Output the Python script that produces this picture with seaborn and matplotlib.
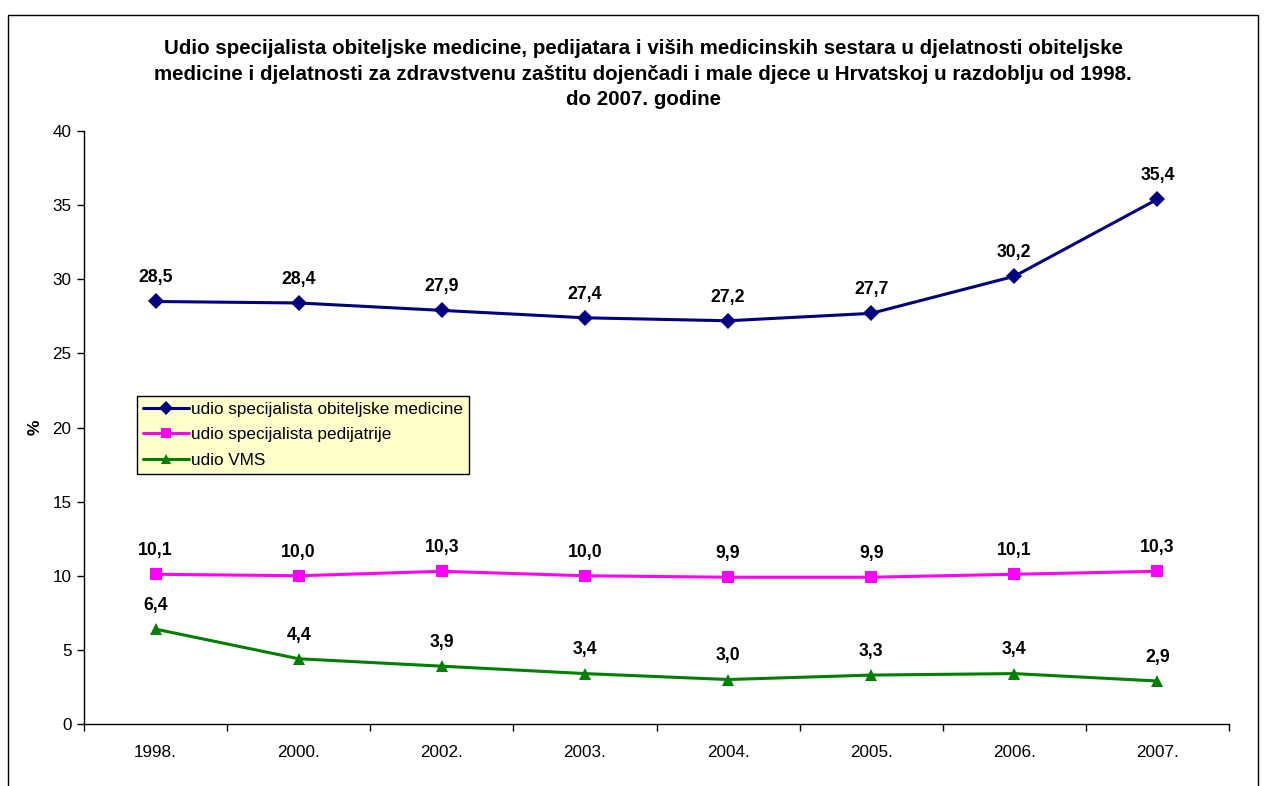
import matplotlib
matplotlib.use("Agg")
import matplotlib.pyplot as plt
import seaborn as sns
import pandas as pd
from matplotlib.patches import Rectangle
from matplotlib.ticker import FixedLocator

years = ["1998.", "2000.", "2002.", "2003.", "2004.", "2005.", "2006.", "2007."]
obiteljska = [28.5, 28.4, 27.9, 27.4, 27.2, 27.7, 30.2, 35.4]
pedijatrija = [10.1, 10.0, 10.3, 10.0, 9.9, 9.9, 10.1, 10.3]
vms = [6.4, 4.4, 3.9, 3.4, 3.0, 3.3, 3.4, 2.9]
series_names = ["udio specijalista obiteljske medicine",
                "udio specijalista pedijatrije",
                "udio VMS"]
title = ("Udio specijalista obiteljske medicine, pedijatara i viših medicinskih sestara u djelatnosti obiteljske\n"
         "medicine i djelatnosti za zdravstvenu zaštitu dojenčadi i male djece u Hrvatskoj u razdoblju od 1998.\n"
         "do 2007. godine")

sns.set_style("white")
plt.rcParams['font.family'] = ['Liberation Sans', 'DejaVu Sans']
plt.rcParams['text.color'] = 'black'
plt.rcParams['axes.labelcolor'] = 'black'
plt.rcParams['xtick.color'] = 'black'
plt.rcParams['ytick.color'] = 'black'

rows = []
for name, vals in zip(series_names, [obiteljska, pedijatrija, vms]):
    for y, v in zip(years, vals):
        rows.append({"godina": y, "vrijednost": v, "serija": name})
df = pd.DataFrame(rows)

colors = {series_names[0]: "#000080", series_names[1]: "#FF00FF", series_names[2]: "#008000"}
markers = {series_names[0]: "D", series_names[1]: "s", series_names[2]: "^"}

fig = plt.figure(figsize=(12.68, 7.86), dpi=100)
ax = fig.add_axes([84/1268, 1-724/786, (1229-84)/1268, (724-131)/786])

sns.lineplot(data=df, x="godina", y="vrijednost", hue="serija", style="serija",
             palette=colors, markers=markers, dashes=False, linewidth=2.2,
             markersize=8.5, markeredgewidth=0, ax=ax, sort=False)

# data labels
for vals in [obiteljska, pedijatrija, vms]:
    for i, v in enumerate(vals):
        ax.annotate(f"{v:.1f}".replace(".", ","), (i, v), xytext=(0, 17),
                    textcoords="offset points", ha="center", va="center",
                    fontsize=12.7, fontweight="bold", color="black")

ax.set_xlim(-0.5, len(years) - 0.5)
ax.set_ylim(0, 40)
ax.set_yticks(range(0, 41, 5))
ax.set_xticks(range(len(years)))
ax.set_xticklabels(years)
ax.xaxis.set_minor_locator(FixedLocator([i - 0.5 for i in range(len(years) + 1)]))
ax.tick_params(axis="x", which="major", length=0, pad=15, labelsize=12.3)
ax.tick_params(axis="x", which="minor", length=5, width=1, direction="out", bottom=True)
ax.tick_params(axis="y", length=5, width=1, direction="out", left=True, labelsize=12.3, pad=4)
ax.set_xlabel("")
ax.set_ylabel("%", fontsize=12.5, fontweight="bold", labelpad=7)
for side in ["top", "right"]:
    ax.spines[side].set_visible(False)
for side in ["left", "bottom"]:
    ax.spines[side].set_color("black")
    ax.spines[side].set_linewidth(1)

leg = ax.legend(loc="upper left", bbox_to_anchor=(0.0463, 0.553), frameon=True,
                fontsize=12.3, fancybox=False, borderpad=0.35, labelspacing=0.6,
                handlelength=2.7, handletextpad=0.1, borderaxespad=0, markerscale=0.8)
leg.get_frame().set_facecolor("#FFFFCC")
leg.get_frame().set_edgecolor("black")
leg.get_frame().set_linewidth(1)
leg.get_frame().set_alpha(1)

fig.text(643/1268, 1 - 74/786, title, ha="center", va="center", fontsize=14.8,
         fontweight="bold", linespacing=1.45)

fig.patches.append(Rectangle((8/1268, -0.05), (1258-8)/1268, 1 - 15/786 + 0.05,
                             transform=fig.transFigure, fill=False,
                             edgecolor="black", linewidth=1))

fig.savefig("out.png", dpi=100)
